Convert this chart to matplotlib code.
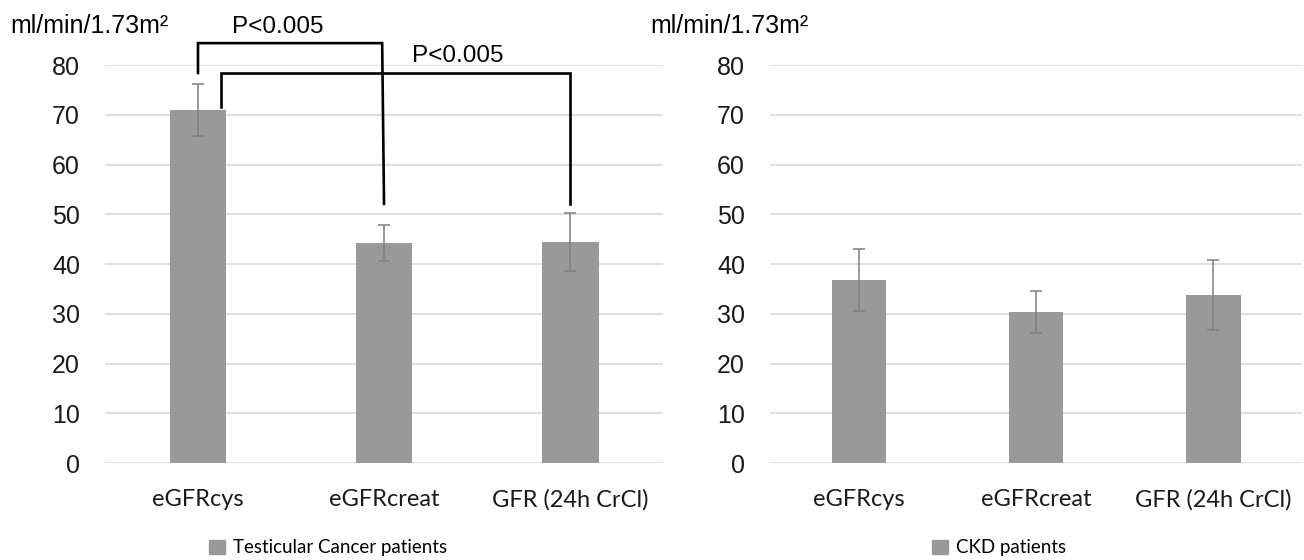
import numpy as np
import matplotlib
matplotlib.use("Agg")
import matplotlib.pyplot as plt
from matplotlib.patches import Patch

# --- Data ---
categories = ["eGFRcys", "eGFRcreat", "GFR (24h CrCl)"]

tc_means = [71.0, 44.3, 44.4]
tc_errs = [5.2, 3.6, 5.8]

ckd_means = [36.8, 30.4, 33.8]
ckd_errs = [6.2, 4.2, 7.0]

panel_labels = ["Testicular Cancer patients", "CKD patients"]
unit_label = "ml/min/1.73m\u00b2"
p_label = "P<0.005"

# --- Style ---
BAR_COLOR = "#999999"
ERR_COLOR = "#7f7f7f"
GRID_COLOR = "#d9d9d9"
TICK_FONT = "Liberation Sans"
CAT_FONT = "Lato"

fig = plt.figure(figsize=(13.04, 5.6), dpi=100)
ax1 = fig.add_axes([0.0805, 0.1732, 0.428, 0.7107])
ax2 = fig.add_axes([0.5905, 0.1732, 0.408, 0.7107])


def draw_panel(ax, means, errs):
    x = np.arange(len(categories))
    ax.bar(x, means, width=0.306, color=BAR_COLOR, zorder=2)
    ax.errorbar(x, means, yerr=errs, fmt="none", ecolor=ERR_COLOR,
                elinewidth=1.1, capsize=4, capthick=1.1, zorder=3)
    ax.set_xlim(-0.5, len(categories) - 0.5)
    ax.set_ylim(0, 80)
    ax.set_yticks(np.arange(0, 81, 10))
    ax.yaxis.grid(True, color=GRID_COLOR, linewidth=1.2, zorder=0)
    ax.set_axisbelow(True)
    for s in ax.spines.values():
        s.set_visible(False)
    ax.set_xticks(x)
    ax.set_xticklabels(categories, fontfamily=CAT_FONT, fontsize=17)
    ax.tick_params(axis="both", length=0)
    ax.tick_params(axis="y", pad=18, labelsize=18)
    ax.tick_params(axis="x", pad=19)
    for t in ax.get_yticklabels():
        t.set_fontfamily(TICK_FONT)
        t.set_color("#1a1a1a")
    for t in ax.get_xticklabels():
        t.set_color("#1a1a1a")


draw_panel(ax1, tc_means, tc_errs)
draw_panel(ax2, ckd_means, ckd_errs)

# significance brackets on the left panel
bracket_kw = dict(color="black", linewidth=1.9, clip_on=False, zorder=4,
                  solid_joinstyle="miter")
ax1.plot([0, 0, 0.99, 1.0], [78.4, 84.4, 84.4, 52.1], **bracket_kw)
ax1.plot([0.124, 0.124, 2.0, 2.0], [71.6, 78.4, 78.4, 52.1], **bracket_kw)
ax1.text(0.43, 87.6, p_label, ha="center", va="center", fontsize=17.5,
         fontfamily=TICK_FONT, clip_on=False)
ax1.text(1.398, 81.8, p_label, ha="center", va="center", fontsize=17.5,
         fontfamily=TICK_FONT, clip_on=False)

# unit labels
fig.text(10 / 1304, 1 - 26 / 560, unit_label, ha="left", va="center",
         fontsize=18, fontfamily=TICK_FONT)
fig.text(650 / 1304, 1 - 26 / 560, unit_label, ha="left", va="center",
         fontsize=18, fontfamily=TICK_FONT)

# legends
for cx, lab in [(328 / 1304, panel_labels[0]), (999 / 1304, panel_labels[1])]:
    fig.legend(handles=[Patch(color=BAR_COLOR, label=lab)],
               loc="center", bbox_to_anchor=(cx, 1 - 548 / 560),
               frameon=False, handlelength=0.85, handleheight=0.85,
               handletextpad=0.4, prop={"family": CAT_FONT, "size": 13.5})

fig.savefig("out.png", dpi=100)
